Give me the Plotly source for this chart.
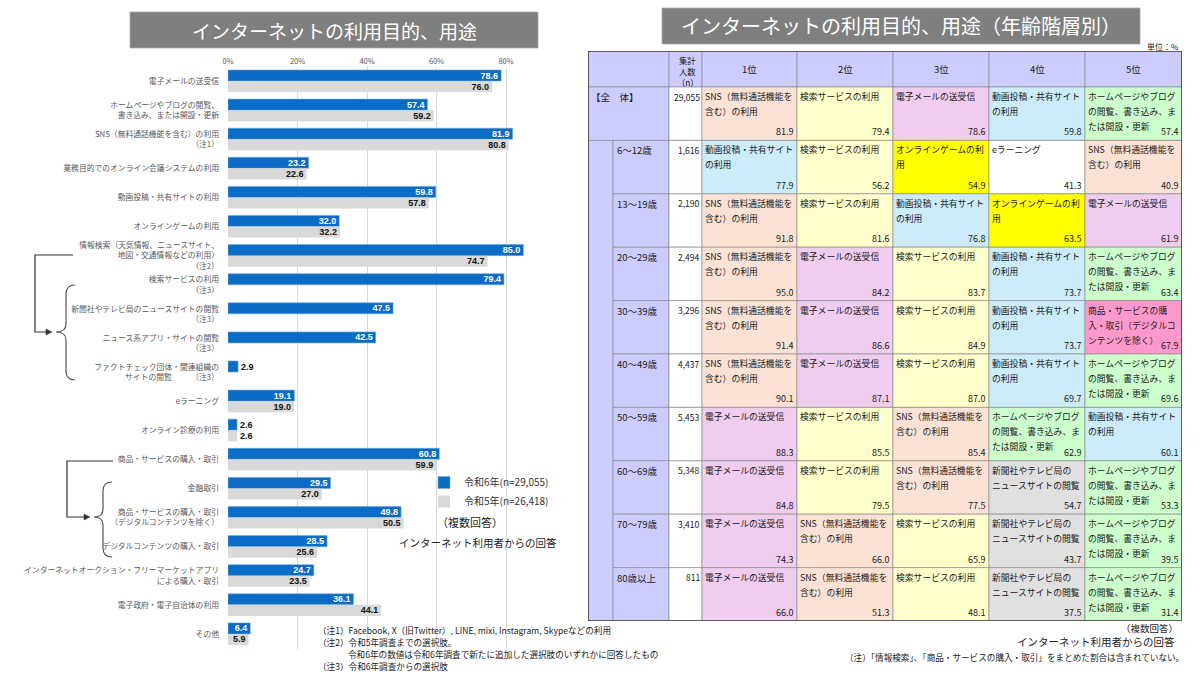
import plotly.graph_objects as go

FONT = "Noto Sans CJK JP"
W, H = 1200, 676

# ---------------- left chart data ----------------
categories = [
    "電子メールの送受信",
    "ホームページやブログの閲覧、<br>書き込み、または開設・更新",
    "SNS（無料通話機能を含む）の利用<br>（注1）",
    "業務目的でのオンライン会議システムの利用",
    "動画投稿・共有サイトの利用",
    "オンラインゲームの利用",
    "情報検索（天気情報、ニュースサイト、<br>地図・交通情報などの利用）<br>（注2）",
    "検索サービスの利用<br>（注3）",
    "新聞社やテレビ局のニュースサイトの閲覧<br>（注3）",
    "ニュース系アプリ・サイトの閲覧<br>（注3）",
    "ファクトチェック団体・関連組織の<br>サイトの閲覧　　　（注3）",
    "eラーニング",
    "オンライン診療の利用",
    "商品・サービスの購入・取引",
    "金融取引",
    "商品・サービスの購入・取引<br>（デジタルコンテンツを除く）",
    "デジタルコンテンツの購入・取引",
    "インターネットオークション・フリーマーケットアプリ<br>による購入・取引",
    "電子政府・電子自治体の利用",
    "その他",
]
values_r6 = [78.6, 57.4, 81.9, 23.2, 59.8, 32.0, 85.0, 79.4, 47.5, 42.5,
             2.9, 19.1, 2.6, 60.8, 29.5, 49.8, 28.5, 24.7, 36.1, 6.4]
values_r5 = [76.0, 59.2, 80.8, 22.6, 57.8, 32.2, 74.7, None, None, None,
             None, 19.0, 2.6, 59.9, 27.0, 50.5, 25.6, 23.5, 44.1, 5.9]
series_names = ["令和6年(n=29,055)", "令和5年(n=26,418)"]
x_ticks = [0, 20, 40, 60, 80]
x_ticktext = ["0%", "20%", "40%", "60%", "80%"]

# ---------------- right table data ----------------
SNS = "SNS（無料通話機能を含む）の利用"
SEARCH = "検索サービスの利用"
MAIL = "電子メールの送受信"
VIDEO = "動画投稿・共有サイトの利用"
HP = "ホームページやブログの閲覧、書き込み、または開設・更新"
GAME = "オンラインゲームの利用"
ELEARN = "eラーニング"
SHOP = "商品・サービスの購入・取引（デジタルコンテンツを除く）"
NEWS = "新聞社やテレビ局のニュースサイトの閲覧"

age_groups = ["【全　体】", "6～12歳", "13～19歳", "20～29歳", "30～39歳",
              "40～49歳", "50～59歳", "60～69歳", "70～79歳", "80歳以上"]
sample_n = ["29,055", "1,616", "2,190", "2,494", "3,296",
            "4,437", "5,453", "5,348", "3,410", "811"]
rank_headers = ["1位", "2位", "3位", "4位", "5位"]
rank_items = [
    [SNS, SEARCH, MAIL, VIDEO, HP],
    [VIDEO, SEARCH, GAME, ELEARN, SNS],
    [SNS, SEARCH, VIDEO, GAME, MAIL],
    [SNS, MAIL, SEARCH, VIDEO, HP],
    [SNS, MAIL, SEARCH, VIDEO, SHOP],
    [SNS, MAIL, SEARCH, VIDEO, HP],
    [MAIL, SEARCH, SNS, HP, VIDEO],
    [MAIL, SEARCH, SNS, NEWS, HP],
    [MAIL, SNS, SEARCH, NEWS, HP],
    [MAIL, SNS, SEARCH, NEWS, HP],
]
rank_values = [
    [81.9, 79.4, 78.6, 59.8, 57.4],
    [77.9, 56.2, 54.9, 41.3, 40.9],
    [91.8, 81.6, 76.8, 63.5, 61.9],
    [95.0, 84.2, 83.7, 73.7, 63.4],
    [91.4, 86.6, 84.9, 73.7, 67.9],
    [90.1, 87.1, 87.0, 69.7, 69.6],
    [88.3, 85.5, 85.4, 62.9, 60.1],
    [84.8, 79.5, 77.5, 54.7, 53.3],
    [74.3, 66.0, 65.9, 43.7, 39.5],
    [66.0, 51.3, 48.1, 37.5, 31.4],
]

# styles for table items: wrapped lines and fill colour
item_style = {
    SNS: (["SNS（無料通話機能を", "含む）の利用"], "#FBE2D5"),
    SEARCH: (["検索サービスの利用"], "#FFFFCC"),
    MAIL: (["電子メールの送受信"], "#F0CCEE"),
    VIDEO: (["動画投稿・共有サイト", "の利用"], "#CCECFA"),
    HP: (["ホームページやブログ", "の閲覧、書き込み、ま", "たは開設・更新"], "#CCFFCC"),
    GAME: (["オンラインゲームの利", "用"], "#FFFF00"),
    ELEARN: (["eラーニング"], "#FFFFFF"),
    SHOP: (["商品・サービスの購", "入・取引（デジタルコ", "ンテンツを除く）"], "#FF99CC"),
    NEWS: (["新聞社やテレビ局の", "ニュースサイトの閲覧"], "#E0E0E0"),
}
LAV = "#CCCCFF"
GRID = "#8c8c8c"


def p(x, y):
    return f"{x / W:.5f},{1 - y / H:.5f}"


fig = go.Figure()

pos6 = ["inside" if v >= 5 else "outside" for v in values_r6]
pos5 = ["inside" if (v is not None and v >= 5) else "outside" for v in values_r5]

fig.add_trace(go.Bar(
    y=categories, x=values_r6, orientation="h", name=series_names[0],
    marker=dict(color="#0A6CC4", line=dict(width=0.6, color="#6FA8DC")),
    texttemplate="<b>%{x:.1f}</b>", textposition=pos6, insidetextanchor="end",
    insidetextfont=dict(color="white", size=9, family="Liberation Sans"),
    outsidetextfont=dict(color="#111", size=9, family="Liberation Sans"),
    textangle=0, cliponaxis=False, xaxis="x", yaxis="y",
))
fig.add_trace(go.Bar(
    y=categories, x=values_r5, orientation="h", name=series_names[1],
    marker=dict(color="#D9D9D9", line=dict(width=0)),
    texttemplate="<b>%{x:.1f}</b>", textposition=pos5, insidetextanchor="end",
    insidetextfont=dict(color="#111", size=9, family="Liberation Sans"),
    outsidetextfont=dict(color="#111", size=9, family="Liberation Sans"),
    textangle=0, cliponaxis=False, xaxis="x", yaxis="y",
))

shapes = []
annotations = []

# ---- titles ----
shapes.append(dict(type="rect", xref="paper", yref="paper", x0=130 / W, x1=538 / W,
                   y0=1 - 48 / H, y1=1 - 12 / H, fillcolor="#7F7F7F", line=dict(width=0.8, color="#aaaaaa"), layer="below"))
annotations.append(dict(xref="paper", yref="paper", x=334 / W, y=1 - 30 / H, text="インターネットの利用目的、用途",
                        showarrow=False, font=dict(size=19, color="white", family=FONT, weight="normal"),
                        xanchor="center", yanchor="middle"))
shapes.append(dict(type="rect", xref="paper", yref="paper", x0=662 / W, x1=1140 / W,
                   y0=1 - 44 / H, y1=1 - 8 / H, fillcolor="#7F7F7F", line=dict(width=0.8, color="#aaaaaa"), layer="below"))
annotations.append(dict(xref="paper", yref="paper", x=901 / W, y=1 - 26 / H, text="インターネットの利用目的、用途（年齢階層別）",
                        showarrow=False, font=dict(size=20, color="white", family=FONT, weight="normal"),
                        xanchor="center", yanchor="middle"))

# ---- brackets (left) ----
LC = "#333333"
shapes.append(dict(type="path", xref="paper", yref="paper",
                   path=f"M {p(73,255)} L {p(35,255)} L {p(35,332)} L {p(47,332)}", line=dict(color=LC, width=1.2)))
shapes.append(dict(type="path", xref="paper", yref="paper",
                   path=f"M {p(46,329)} L {p(52,332)} L {p(46,335)} Z", fillcolor=LC, line=dict(color=LC, width=0.5)))
shapes.append(dict(type="path", xref="paper", yref="paper",
                   path=(f"M {p(75,285)} Q {p(66,285)} {p(66,294)} L {p(66,324)} Q {p(66,332)} {p(56,332)} "
                         f"Q {p(66,332)} {p(66,340)} L {p(66,371)} Q {p(66,380)} {p(75,380)}"),
                   line=dict(color="#555", width=1.2)))
shapes.append(dict(type="path", xref="paper", yref="paper",
                   path=f"M {p(113,461)} L {p(67,461)} L {p(67,517)} L {p(85,517)}", line=dict(color=LC, width=1.2)))
shapes.append(dict(type="path", xref="paper", yref="paper",
                   path=f"M {p(84,514)} L {p(90,517)} L {p(84,520)} Z", fillcolor=LC, line=dict(color=LC, width=0.5)))
shapes.append(dict(type="path", xref="paper", yref="paper",
                   path=(f"M {p(112,482)} Q {p(103,482)} {p(103,491)} L {p(103,509)} Q {p(103,517)} {p(94,517)} "
                         f"Q {p(103,517)} {p(103,525)} L {p(103,548)} Q {p(103,557)} {p(112,557)}"),
                   line=dict(color="#555", width=1.2)))

# ---- left texts ----
annotations.append(dict(xref="paper", yref="paper", x=470 / W, y=1 - 522 / H, text="（複数回答）", showarrow=False,
                        font=dict(size=11, color="#222", family=FONT), xanchor="center", yanchor="middle"))
annotations.append(dict(xref="paper", yref="paper", x=478 / W, y=1 - 542 / H, text="インターネット利用者からの回答",
                        showarrow=False, font=dict(size=10.5, color="#222", family=FONT), xanchor="center", yanchor="middle"))
notes = [
    (316, 630, "（注1）Facebook, X（旧Twitter）, LINE, mixi, Instagram, Skypeなどの利用"),
    (316, 642, "（注2）令和5年調査までの選択肢。"),
    (346, 654, "令和6年の数値は令和6年調査で新たに追加した選択肢のいずれかに回答したもの"),
    (316, 666, "（注3）令和6年調査からの選択肢"),
]
for nx, ny, nt in notes:
    annotations.append(dict(xref="paper", yref="paper", x=nx / W, y=1 - ny / H, text=nt, showarrow=False,
                            font=dict(size=8.6, color="#222", family=FONT), xanchor="left", yanchor="middle"))

# ---- right table ----
col_edges = [0, 25, 81, 114, 209, 305, 401, 497, 594]
header_h = 36
row_h = 53.4
total_h = header_h + row_h * len(age_groups)


def cell(x0, x1, y0, y1, fill, lw=0.7):
    shapes.append(dict(type="rect", xref="x2", yref="y2", x0=x0, x1=x1, y0=y0, y1=y1,
                       fillcolor=fill, line=dict(color=GRID, width=lw), layer="below"))


def txt(x, y, t, size=9.5, xa="left", ya="top", color="#1a1a1a"):
    annotations.append(dict(xref="x2", yref="y2", x=x, y=y, text=t, showarrow=False,
                            font=dict(size=size, color=color, family=FONT), xanchor=xa, yanchor=ya,
                            borderpad=0))


# header
cell(0, col_edges[2], 0, header_h, LAV)
cell(col_edges[2], col_edges[3], 0, header_h, LAV)
for k, hname in enumerate(rank_headers):
    cx0, cx1 = col_edges[3 + k], col_edges[4 + k]
    cell(cx0, cx1, 0, header_h, LAV)
    txt((cx0 + cx1) / 2, header_h / 2, hname, size=9.5, xa="center", ya="middle")
for i, t in enumerate(["集計", "人数", "（n）"]):
    txt((col_edges[2] + col_edges[3]) / 2 + 2, 1.5 + i * 11.2, t, size=8.3, xa="center")

# merged group column
cell(0, col_edges[1], header_h + row_h, total_h, LAV)

for r, grp in enumerate(age_groups):
    y0 = header_h + r * row_h
    y1 = y0 + row_h
    if r == 0:
        cell(0, col_edges[2], y0, y1, LAV)
        txt(2, y0 + 2, grp, size=9.5)
    else:
        cell(col_edges[1], col_edges[2], y0, y1, LAV)
        txt(col_edges[1] + 3, y0 + 2, grp, size=9.5)
    cell(col_edges[2], col_edges[3], y0, y1, "#FFFFFF")
    txt(col_edges[3] - 1, y0 + 2.5, sample_n[r], size=8.5, xa="right")
    for k in range(5):
        cx0, cx1 = col_edges[3 + k], col_edges[4 + k]
        lines, fill = item_style[rank_items[r][k]]
        cell(cx0, cx1, y0, y1, fill)
        for li, line in enumerate(lines):
            txt(cx0 + 1.5, y0 + 2 + li * 15, line, size=8.8)
        txt(cx1 - 2, y1 - 1, f"{rank_values[r][k]:.1f}", size=9, xa="right", ya="bottom")

# outer border
shapes.append(dict(type="rect", xref="x2", yref="y2", x0=0, x1=col_edges[-1], y0=0, y1=total_h,
                   line=dict(color="#404040", width=1.6), fillcolor="rgba(0,0,0,0)"))

# right texts
annotations.append(dict(xref="paper", yref="paper", x=1181 / W, y=1 - 46 / H, text="単位：%", showarrow=False,
                        font=dict(size=8, color="#222", family=FONT), xanchor="right", yanchor="middle"))
annotations.append(dict(xref="paper", yref="paper", x=1180 / W, y=1 - 628 / H, text="（複数回答）", showarrow=False,
                        font=dict(size=9.5, color="#222", family=FONT), xanchor="right", yanchor="middle"))
annotations.append(dict(xref="paper", yref="paper", x=1177 / W, y=1 - 641 / H, text="インターネット利用者からの回答",
                        showarrow=False, font=dict(size=10.5, color="#222", family=FONT), xanchor="right", yanchor="middle"))
annotations.append(dict(xref="paper", yref="paper", x=1186 / W, y=1 - 657 / H,
                        text="（注）「情報検索」、「商品・サービスの購入・取引」をまとめた割合は含まれていない。",
                        showarrow=False, font=dict(size=8.6, color="#222", family=FONT), xanchor="right", yanchor="middle"))

fig.update_layout(
    width=W, height=H, autosize=False,
    margin=dict(l=0, r=0, t=0, b=0),
    paper_bgcolor="white", plot_bgcolor="rgba(0,0,0,0)",
    font=dict(family=FONT, color="#333"),
    barmode="group", bargap=0.24, bargroupgap=0,
    showlegend=True,
    legend=dict(x=424 / W, y=1 - 468 / H, xanchor="left", yanchor="top", traceorder="normal",
                font=dict(size=10, color="#333", family=FONT), bgcolor="rgba(0,0,0,0)",
                itemwidth=30, tracegroupgap=0),
    xaxis=dict(domain=[228 / W, 575.5 / W], range=[0, 100], side="top", anchor="y",
               tickvals=x_ticks, ticktext=x_ticktext, tickfont=dict(size=7.5, color="#595959"),
               showgrid=True, gridcolor="#D9D9D9", gridwidth=1, zeroline=False, showline=False,
               ticks="", fixedrange=True, automargin=False),
    yaxis=dict(domain=[1 - 648.5 / H, 1 - 66.5 / H], autorange="reversed", anchor="x",
               tickfont=dict(size=7.8, color="#595959"), showgrid=False, ticks="",
               ticklabelstandoff=8, showline=False, zeroline=False, fixedrange=True, automargin=False),
    xaxis2=dict(domain=[588 / W, 1182 / W], range=[0, 594], visible=False, anchor="y2", fixedrange=True),
    yaxis2=dict(domain=[1 - 621 / H, 1 - 51 / H], range=[total_h, 0], visible=False, anchor="x2", fixedrange=True),
    shapes=shapes,
    annotations=annotations,
    uniformtext=dict(minsize=9, mode="show"),
)

fig.write_html("out.html")
